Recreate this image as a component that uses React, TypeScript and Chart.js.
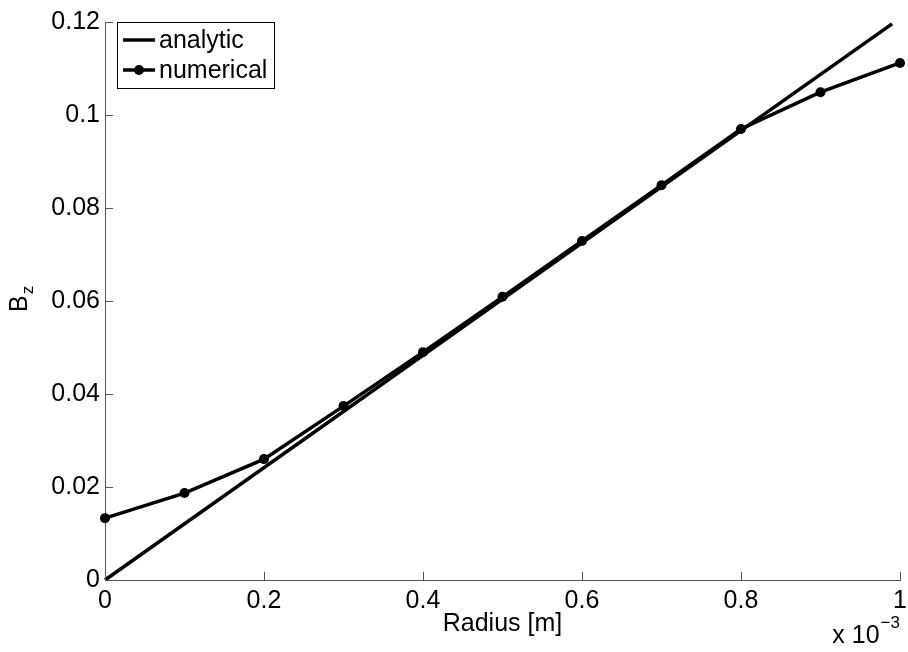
import { useEffect, useRef } from 'react';
import { Chart, registerables } from 'chart.js';

Chart.register(...registerables);

const FONT = "'Liberation Sans', Arial, Helvetica, sans-serif";

// Radius in metres
const radius = [0, 0.0001, 0.0002, 0.0003, 0.0004, 0.0005, 0.0006, 0.0007, 0.0008, 0.0009, 0.001];
const numericalBz = [0.0133, 0.0187, 0.026, 0.0374, 0.049, 0.0609, 0.0729, 0.0849, 0.097, 0.1049, 0.1112];
const analyticRadius = [0, 0.00099];
const analyticBz = [0, 0.1196];

const xTickValues = [0, 0.2, 0.4, 0.6, 0.8, 1]; // in units of 10^-3 m
const yTickValues = [0, 0.02, 0.04, 0.06, 0.08, 0.1, 0.12];

const seriesNames = ['analytic', 'numerical'];
const xTitle = 'Radius [m]';
const yTitleMain = 'B';
const yTitleSub = 'z';
const xExponentBase = 'x 10';
const xExponentPower = '\u22123';

const fmt = (v: number) => String(+v.toFixed(3));

const decor = {
  id: 'decor',
  afterDraw(chart: any) {
    const ctx: CanvasRenderingContext2D = chart.ctx;
    const xs = chart.scales.x;
    const ys = chart.scales.y;
    const area = chart.chartArea;
    ctx.save();
    // inward ticks
    ctx.strokeStyle = '#555';
    ctx.lineWidth = 1;
    ctx.beginPath();
    xTickValues.forEach((v) => {
      const px = Math.round(xs.getPixelForValue(v * 1e-3)) + 0.5;
      ctx.moveTo(px, area.bottom);
      ctx.lineTo(px, area.bottom - 8);
    });
    yTickValues.forEach((v) => {
      const py = Math.round(ys.getPixelForValue(v)) + 0.5;
      ctx.moveTo(area.left, py);
      ctx.lineTo(area.left + 8, py);
    });
    ctx.stroke();

    // legend
    const lx = 117.5, ly = 22.5, lw = 157, lh = 66;
    ctx.fillStyle = '#fff';
    ctx.fillRect(lx, ly, lw, lh);
    ctx.strokeStyle = '#000';
    ctx.lineWidth = 1;
    ctx.strokeRect(lx, ly, lw, lh);
    const rows = [40, 70];
    ctx.lineWidth = 3.5;
    rows.forEach((ry, i) => {
      ctx.beginPath();
      ctx.moveTo(123, ry);
      ctx.lineTo(155, ry);
      ctx.stroke();
      if (i === 1) {
        ctx.beginPath();
        ctx.fillStyle = '#000';
        ctx.arc(139, ry, 5, 0, Math.PI * 2);
        ctx.fill();
      }
      ctx.fillStyle = '#000';
      ctx.font = `25px ${FONT}`;
      ctx.textAlign = 'left';
      ctx.textBaseline = 'middle';
      ctx.fillText(seriesNames[i], 159, ry + 1);
    });

    // y title with subscript
    ctx.save();
    ctx.translate(27, 312);
    ctx.rotate(-Math.PI / 2);
    ctx.fillStyle = '#000';
    ctx.textAlign = 'left';
    ctx.textBaseline = 'alphabetic';
    ctx.font = `25px ${FONT}`;
    ctx.fillText(yTitleMain, 0, 0);
    const bw = ctx.measureText(yTitleMain).width;
    ctx.font = `17px ${FONT}`;
    ctx.fillText(yTitleSub, bw + 1, 6);
    ctx.restore();

    // exponent label
    ctx.fillStyle = '#000';
    ctx.textBaseline = 'alphabetic';
    ctx.textAlign = 'right';
    ctx.font = `17px ${FONT}`;
    ctx.fillText(xExponentPower, 900, 628);
    const pw = ctx.measureText(xExponentPower).width;
    ctx.font = `25px ${FONT}`;
    ctx.fillText(xExponentBase, 900 - pw - 1, 643);
    ctx.restore();
  },
};

export default function App() {
  const ref = useRef<HTMLCanvasElement>(null);
  useEffect(() => {
    const chart = new Chart(ref.current as HTMLCanvasElement, {
      type: 'line',
      data: {
        datasets: [
          {
            label: seriesNames[0],
            data: analyticRadius.map((x, i) => ({ x, y: analyticBz[i] })),
            borderColor: '#000',
            backgroundColor: '#000',
            borderWidth: 3.5,
            pointRadius: 0,
            clip: false,
          } as any,
          {
            label: seriesNames[1],
            data: radius.map((x, i) => ({ x, y: numericalBz[i] })),
            borderColor: '#000',
            backgroundColor: '#000',
            borderWidth: 3.5,
            pointRadius: 5,
            pointBackgroundColor: '#000',
            pointBorderWidth: 0,
            clip: false,
          } as any,
        ],
      },
      options: {
        responsive: false,
        animation: false,
        layout: { padding: { top: 22, right: 8, left: 0, bottom: 0 } },
        plugins: { legend: { display: false }, tooltip: { enabled: false } },
        scales: {
          x: {
            type: 'linear',
            min: 0,
            max: 0.001,
            grid: { display: false, drawTicks: false },
            border: { display: true, color: '#555', width: 1 },
            ticks: {
              color: '#000',
              font: { family: FONT, size: 25 },
              padding: 6,
              maxRotation: 0,
              autoSkip: false,
              callback: (v: any) => fmt(Number(v) * 1000),
            },
            afterBuildTicks: (s: any) => {
              s.ticks = xTickValues.map((v) => ({ value: v * 1e-3 }));
            },
            afterFit: (s: any) => {
              s.height = 72;
              s.paddingLeft = 0;
              s.paddingRight = 0;
            },
            title: {
              display: true,
              text: xTitle,
              color: '#000',
              font: { family: FONT, size: 25 },
              padding: { top: 0, bottom: 13 },
            },
          },
          y: {
            type: 'linear',
            min: 0,
            max: 0.12,
            grid: { display: false, drawTicks: false },
            border: { display: true, color: '#555', width: 1 },
            ticks: {
              color: '#000',
              font: { family: FONT, size: 25 },
              padding: 5,
              autoSkip: false,
              callback: (v: any) => fmt(Number(v)),
            },
            afterBuildTicks: (s: any) => {
              s.ticks = yTickValues.map((v) => ({ value: v }));
            },
            afterFit: (s: any) => {
              s.width = 105;
              s.paddingTop = 0;
              s.paddingBottom = 0;
            },
          },
        },
      } as any,
      plugins: [decor],
    });
    return () => chart.destroy();
  }, []);
  return (
    <div style={{ position: 'fixed', left: 0, top: 0, width: 908, height: 652, background: '#fff' }}>
      <canvas ref={ref} width={908} height={652} style={{ display: 'block' }} />
    </div>
  );
}
